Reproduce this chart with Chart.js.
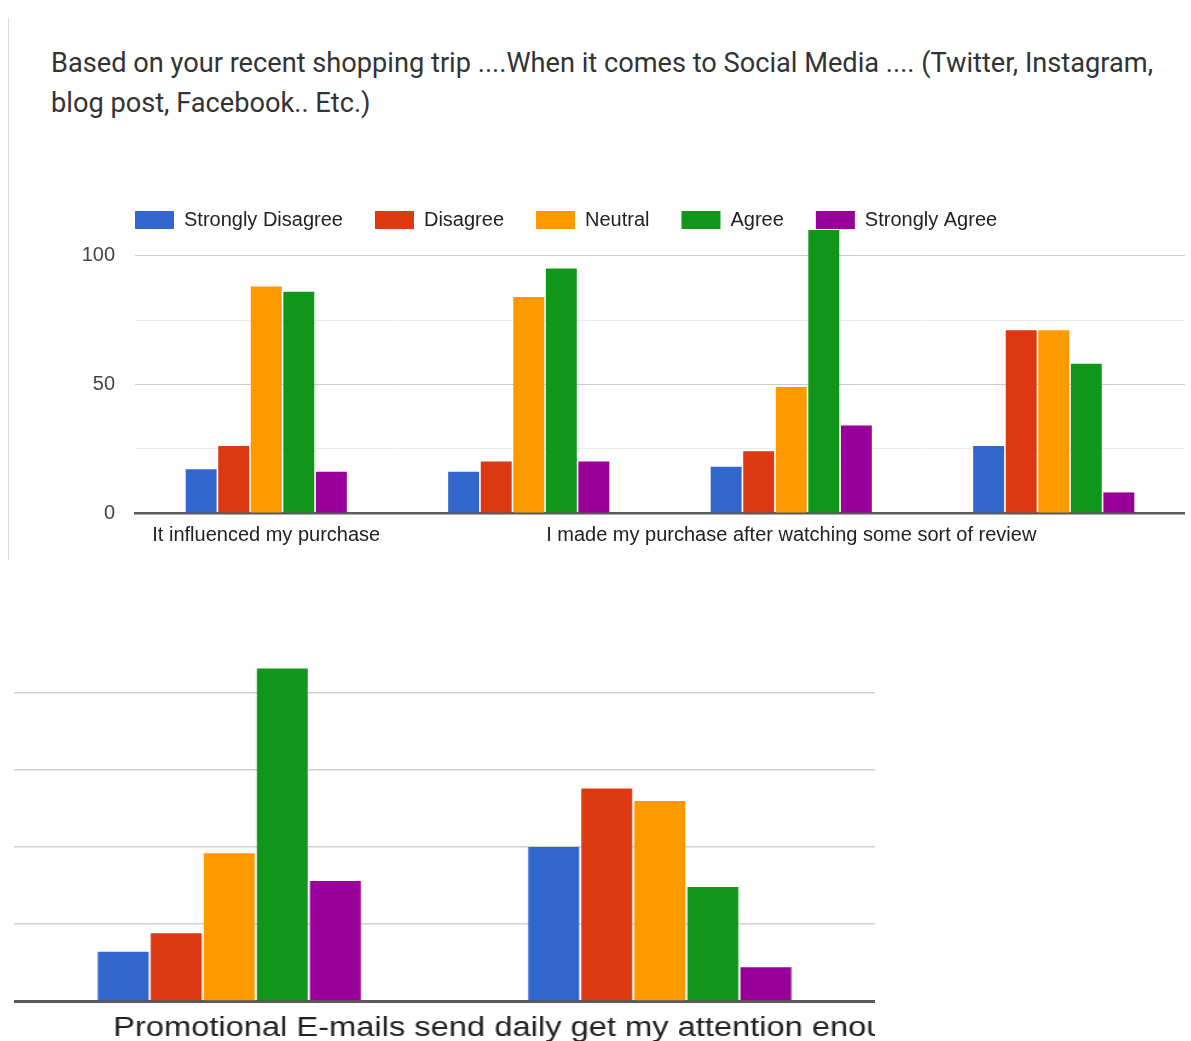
<!DOCTYPE html>
<html>
<head>
<meta charset="utf-8">
<script src="https://cdn.jsdelivr.net/npm/chart.js@4.4.1/dist/chart.umd.min.js"></script>
<style>
  body { margin: 0; background: #fff; width: 1191px; height: 1041px; overflow: hidden; position: relative; }
  .rule { position: absolute; left: 8px; top: 18px; width: 1px; height: 542px; background: #dcdcdc; }
  .question { position: absolute; left: 51px; top: 43px; font: 27.2px/40px Roboto, sans-serif; color: #333; white-space: nowrap; }
  #social { position: absolute; left: 0; top: 168px; }
  #email { position: absolute; left: 14px; top: 647px; transform: scaleX(1.2093); transform-origin: 0 0; }
</style>
</head>
<body>
<div class="rule"></div>
<div class="question">Based on your recent shopping trip ....When it comes to Social Media .... (Twitter, Instagram,<br>blog post, Facebook.. Etc.)</div>
<canvas id="social" width="1185" height="392"></canvas>
<canvas id="email" width="712" height="394"></canvas>
<script>
const responses = ['Strongly Disagree', 'Disagree', 'Neutral', 'Agree', 'Strongly Agree'];
const colors = ['#3366cc', '#dc3912', '#ff9900', '#109618', '#990099'];

// social media question (only every other statement label is shown)
const socialStatements = ['It influenced my purchase', '', 'I made my purchase after watching some sort of review', ''];
const socialStronglyDisagree = [17, 16, 18, 26];
const socialDisagree = [26, 20, 24, 71];
const socialNeutral = [88, 84, 49, 71];
const socialAgree = [86, 95, 110, 58];
const socialStronglyAgree = [16, 20, 34, 8];
const socialTickLabels = [0, 50, 100];

// zoomed crop of the e-mail question
const emailStatements = ['Promotional E-mails send daily get my attention enough', ''];
const emailStronglyDisagree = [16, 50];
const emailDisagree = [22, 69];
const emailNeutral = [48, 65];
const emailAgree = [108, 37];
const emailStronglyAgree = [39, 11];

const font = 'Liberation Sans, Arial, sans-serif';

function makeSets(series, barPct, catPct) {
    return series.map((vals, i) => ({
        label: responses[i],
        data: vals,
        backgroundColor: colors[i],
        borderWidth: 0,
        barPercentage: barPct,
        categoryPercentage: catPct,
        clip: false
    }));
}

// put the legend in line with the plot's left edge
const legendSpot = {
    id: 'legendSpot',
    afterLayout(chart) {
        const lg = chart.legend;
        if (!lg || !lg.options.display) return;
        lg.left = chart.chartArea.left - lg.options.labels.padding;
        lg.top += 10;
    }
};

new Chart(document.getElementById('social'), {
    type: 'bar',
    data: {
        labels: socialStatements,
        datasets: makeSets([socialStronglyDisagree, socialDisagree, socialNeutral, socialAgree, socialStronglyAgree], 0.95, 0.62)
    },
    plugins: [legendSpot],
    options: {
        responsive: false,
        animation: false,
        plugins: {
            legend: {
                position: 'top',
                align: 'start',
                labels: { boxWidth: 39, boxHeight: 18, padding: 32, color: '#222', font: { family: font, size: 20 } }
            },
            tooltip: { enabled: false }
        },
        scales: {
            x: {
                z: 1,
                grid: { display: false, drawTicks: false },
                border: { display: true, color: '#5a5a5a', width: 2.5 },
                ticks: { autoSkip: false, maxRotation: 0, padding: 10, color: '#222', font: { family: font, size: 20 } },
                afterFit: axis => { axis.height = 47; }
            },
            y: {
                min: 0,
                max: 110,
                border: { display: false },
                grid: {
                    drawTicks: false,
                    color: ctx => (ctx.tick && ctx.tick.value % 50 === 0) ? '#cccccc' : '#ebebeb'
                },
                ticks: {
                    stepSize: 25,
                    padding: 20,
                    color: '#444',
                    font: { family: font, size: 20 },
                    callback: v => socialTickLabels.includes(v) ? v : ''
                },
                afterBuildTicks: axis => { axis.ticks = axis.ticks.filter(t => t.value <= 100); },
                afterFit: axis => { axis.width = 135; }
            }
        }
    }
});

new Chart(document.getElementById('email'), {
    type: 'bar',
    data: {
        labels: emailStatements,
        datasets: makeSets([emailStronglyDisagree, emailDisagree, emailNeutral, emailAgree, emailStronglyAgree], 0.96, 0.616)
    },
    options: {
        responsive: false,
        animation: false,
        plugins: { legend: { display: false }, tooltip: { enabled: false } },
        scales: {
            x: {
                z: 1,
                grid: { display: false, drawTicks: false },
                border: { display: true, color: '#5a5a5a', width: 3 },
                ticks: {
                    autoSkip: false, maxRotation: 0, align: 'start', labelOffset: -96,
                    padding: 11, color: '#222', font: { family: font, size: 27 }
                },
                afterFit: axis => { axis.height = 40; }
            },
            y: {
                min: 0,
                max: 115,
                border: { display: false },
                grid: { drawTicks: false, color: '#d0d0d0', lineWidth: 1.5 },
                ticks: { display: false, stepSize: 25 },
                afterBuildTicks: axis => { axis.ticks = axis.ticks.filter(t => t.value <= 100); }
            }
        }
    }
});
</script>
</body>
</html>
